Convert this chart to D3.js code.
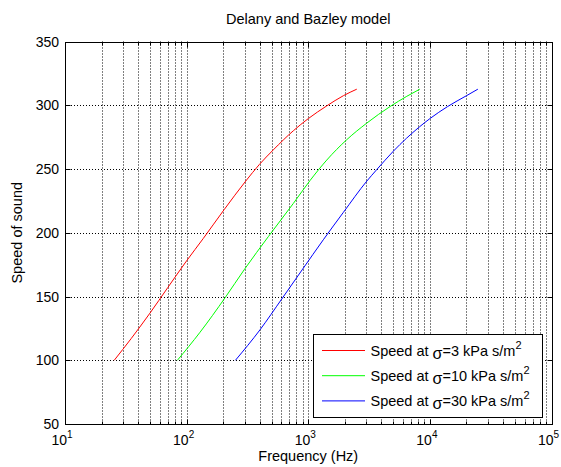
<!DOCTYPE html>
<html>
<head>
<meta charset="utf-8">
<script src="https://cdn.jsdelivr.net/npm/d3@7"></script>
<style>
  body { margin: 0; background: #fff; }
  svg { display: block; }
  text { font-family: "Liberation Sans", Arial, Helvetica, sans-serif; fill: #000; }
</style>
</head>
<body>
<svg id="chart" width="561" height="467"></svg>
<script>
// Phase speed of sound in a porous layer (Delany & Bazley), three flow resistivities
const redFreq   = [25.4, 35, 50, 70, 100, 137, 203, 306, 396, 516, 754, 1000, 1419, 1945, 2506];
const redSpeed  = [100, 117, 137, 157, 178, 195.5, 218, 240.5, 253.5, 265, 280, 289.5, 299.5, 307.5, 312.6];

const greenFreq  = [84, 129, 207, 300, 470, 754, 1035, 1419, 2074, 3029, 4710, 6457, 8264];
const greenSpeed = [100, 122, 149, 171.5, 197, 223, 241, 257, 273, 286, 299, 307, 312.6];

const blueFreq  = [252, 402, 605, 900, 1330, 1945, 3029, 3656, 5012, 8200, 10000, 14000, 20000, 24800];
const blueSpeed = [100, 124, 148, 171.5, 194.5, 216, 240.5, 249.5, 264, 283, 289.5, 299, 307.5, 312.6];

const sigmaLabels = ["3", "10", "30"];          // kPa s/m^2
const seriesColors = ["#ff0000", "#00ff00", "#0000ff"];
const xTickExponents = [1, 2, 3, 4, 5];
const yTickValues = [50, 100, 150, 200, 250, 300, 350];

const titleText = "Delany and Bazley model";
const xLabelText = "Frequency (Hz)";
const yLabelText = "Speed of sound";

const labelFont = "14.5px";
const tickFont = "14px";

const series = [
  { f: redFreq,   c: redSpeed },
  { f: greenFreq, c: greenSpeed },
  { f: blueFreq,  c: blueSpeed }
].map((s, i) => ({
  points: s.f.map((f, j) => [f, s.c[j]]),
  color: seriesColors[i],
  sigma: sigmaLabels[i]
}));

const svg = d3.select("#chart");
const plot = { left: 65, right: 551.5, top: 41.5, bottom: 424 };

const x = d3.scaleLog().domain([10, 1e5]).range([plot.left, plot.right]);
const y = d3.scaleLinear().domain([50, 350]).range([plot.bottom, plot.top]);

// major and minor decade positions
const majorX = xTickExponents.map(e => Math.pow(10, e));
const minorX = [];
for (let e = 1; e < 5; e++) for (let m = 2; m <= 9; m++) minorX.push(m * Math.pow(10, e));

const snap = v => Math.round(v) + 0.5;

// dotted grid
const grid = svg.append("g").attr("stroke", "#000").attr("stroke-width", 1)
  .attr("stroke-dasharray", "1,2").attr("fill", "none");
grid.selectAll("line.vx").data(majorX.slice(1, -1).concat(minorX)).join("line")
  .attr("x1", d => snap(x(d))).attr("x2", d => snap(x(d)))
  .attr("y1", plot.top).attr("y2", plot.bottom);
grid.selectAll("line.hy").data(yTickValues.slice(1, -1)).join("line")
  .attr("y1", d => snap(y(d))).attr("y2", d => snap(y(d)))
  .attr("x1", plot.left).attr("x2", plot.right);

// curves
const line = d3.line().x(d => x(d[0])).y(d => y(d[1])).curve(d3.curveMonotoneX);
svg.append("g").selectAll("path").data(series).join("path")
  .attr("d", d => line(d.points))
  .attr("fill", "none").attr("stroke", d => d.color).attr("stroke-width", 1);

// axes box
svg.append("rect")
  .attr("x", snap(plot.left)).attr("y", snap(plot.top))
  .attr("width", Math.round(plot.right) - Math.round(plot.left))
  .attr("height", Math.round(plot.bottom) - Math.round(plot.top))
  .attr("fill", "none").attr("stroke", "#000").attr("stroke-width", 1);

// inward ticks
const ticks = svg.append("g").attr("stroke", "#000").attr("stroke-width", 1);
const yb = snap(plot.bottom), yt = snap(plot.top), xl = snap(plot.left), xr = snap(plot.right);
const xTickData = majorX.map(v => ({ v, len: 5 })).concat(minorX.map(v => ({ v, len: 3 })));
ticks.selectAll("line.xb").data(xTickData).join("line")
  .attr("x1", d => snap(x(d.v))).attr("x2", d => snap(x(d.v)))
  .attr("y1", yb).attr("y2", d => yb - d.len);
ticks.selectAll("line.xt").data(xTickData).join("line")
  .attr("x1", d => snap(x(d.v))).attr("x2", d => snap(x(d.v)))
  .attr("y1", yt).attr("y2", d => yt + d.len);
ticks.selectAll("line.yl").data(yTickValues).join("line")
  .attr("y1", d => snap(y(d))).attr("y2", d => snap(y(d)))
  .attr("x1", xl).attr("x2", xl + 5);
ticks.selectAll("line.yr").data(yTickValues).join("line")
  .attr("y1", d => snap(y(d))).attr("y2", d => snap(y(d)))
  .attr("x1", xr).attr("x2", xr - 5);

// y tick labels
svg.append("g").selectAll("text").data(yTickValues).join("text")
  .style("font-size", tickFont)
  .attr("x", plot.left - 6).attr("y", d => y(d) + 5)
  .attr("text-anchor", "end").text(d => d);

// x tick labels: 10 with exponent
const xTickLabels = svg.append("g").selectAll("text").data(xTickExponents).join("text")
  .style("font-size", tickFont)
  .attr("x", d => x(Math.pow(10, d)) - 3).attr("y", plot.bottom + 21)
  .attr("text-anchor", "middle");
xTickLabels.append("tspan").text("10");
xTickLabels.append("tspan").attr("dy", -7).style("font-size", "10px").text(d => d);

// title and axis labels
svg.append("text").style("font-size", labelFont)
  .attr("x", (plot.left + plot.right) / 2).attr("y", 24)
  .attr("text-anchor", "middle").text(titleText);
svg.append("text").style("font-size", labelFont)
  .attr("x", (plot.left + plot.right) / 2).attr("y", 461)
  .attr("text-anchor", "middle").text(xLabelText);
svg.append("text").style("font-size", labelFont)
  .attr("transform", `translate(22,${(plot.top + plot.bottom) / 2}) rotate(-90)`)
  .attr("text-anchor", "middle").text(yLabelText);

// legend
const lg = { x: 313, y: 334, w: 229, h: 83, rowH: 25.2 };
const legend = svg.append("g");
legend.append("rect")
  .attr("x", lg.x + 0.5).attr("y", lg.y + 0.5).attr("width", lg.w).attr("height", lg.h)
  .attr("fill", "#fff").attr("stroke", "#000").attr("stroke-width", 1);
const rows = legend.selectAll("g.row").data(series).join("g")
  .attr("transform", (d, i) => `translate(${lg.x}, ${lg.y + 16.5 + i * lg.rowH})`);
rows.append("line").attr("x1", 9).attr("x2", 52).attr("y1", 0).attr("y2", 0)
  .attr("stroke", d => d.color).attr("stroke-width", 1);
const lt = rows.append("text").style("font-size", labelFont).attr("x", 57.5).attr("y", 5);
lt.append("tspan").text("Speed at ");
lt.append("tspan").attr("dy", 3).style("font-size", "16px").text("σ");
lt.append("tspan").attr("dy", -3).text(d => "=" + d.sigma + " kPa s/m");
lt.append("tspan").attr("dy", -7).style("font-size", "11px").text("2");
</script>
</body>
</html>
